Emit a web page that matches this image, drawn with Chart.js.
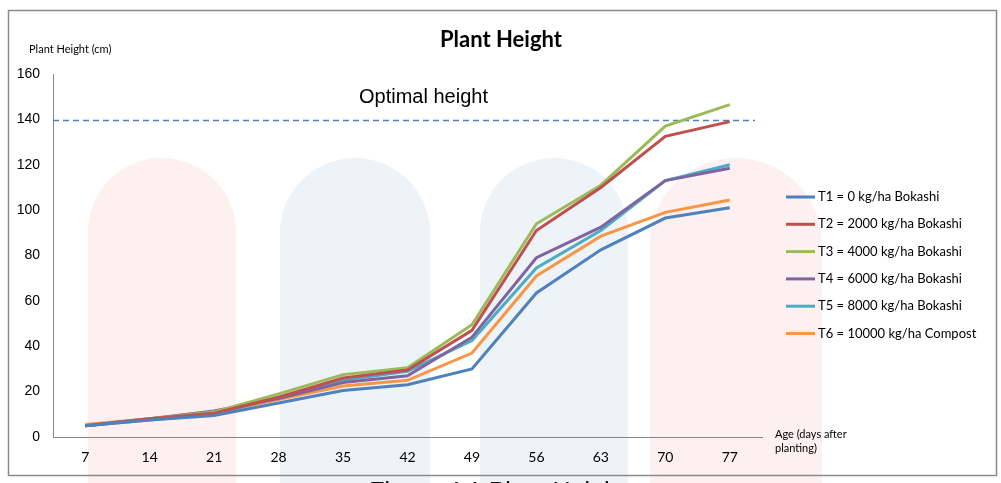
<!DOCTYPE html>
<html>
<head>
<meta charset="utf-8">
<script src="https://cdn.jsdelivr.net/npm/chart.js@4/dist/chart.umd.min.js"></script>
<style>
  html, body { margin: 0; padding: 0; background: #ffffff; }
  #wrap { position: relative; width: 1001px; height: 483px; overflow: hidden; }
  canvas { display: block; }
</style>
</head>
<body>
<div id="wrap"><canvas id="c" width="1001" height="483"></canvas></div>
<script>
// ---- data ----
const days = ['7', '14', '21', '28', '35', '42', '49', '56', '63', '70', '77'];
const seriesNames = [
  'T1 = 0 kg/ha Bokashi',
  'T2 = 2000 kg/ha Bokashi',
  'T3 = 4000 kg/ha Bokashi',
  'T4 = 6000 kg/ha Bokashi',
  'T5 = 8000 kg/ha Bokashi',
  'T6 = 10000 kg/ha Compost'
];
const t1 = [5, 7.5, 9.5, 15, 20.5, 23, 30, 63.5, 82.5, 96.5, 101];
const t2 = [5, 8, 10.5, 17.5, 26, 29.5, 47, 91, 110, 132.5, 139];
const t3 = [5, 8, 11, 19, 27.5, 30.5, 49.5, 94, 111, 137, 146.5];
const t4 = [5, 8, 11.5, 17, 24, 27, 44, 79, 92.5, 113, 118.5];
const t5 = [5, 7.5, 10, 17.5, 25, 29, 42.5, 74.5, 91, 113, 120];
const t6 = [5.5, 8, 10.5, 16.5, 22.5, 25, 37, 71, 88.5, 99, 104.5];
const optimalHeight = 139.5;
const yMin = 0, yMax = 160, yStep = 20;
const colors = ['#4F81BD', '#C0504D', '#9BBB59', '#8064A2', '#4BACC6', '#F79646'];

const seriesValues = [t1, t2, t3, t4, t5, t6];

const CAL = 'Lato, "Open Sans", sans-serif';
const ARI = '"Liberation Sans", Arial, sans-serif';

// background watermark + frame
const backdrop = {
  id: 'backdrop',
  beforeDraw(chart) {
    const ctx = chart.ctx;
    ctx.save();
    ctx.fillStyle = '#ffffff';
    ctx.fillRect(0, 0, chart.width, chart.height);
    function pill(x, y, w, h, col) {
      const r = w / 2;
      ctx.fillStyle = col;
      ctx.beginPath();
      ctx.moveTo(x, y + r);
      ctx.arc(x + r, y + r, r, Math.PI, 0);
      ctx.lineTo(x + w, y + h);
      ctx.lineTo(x, y + h);
      ctx.closePath();
      ctx.fill();
    }
    pill(88, 158, 148, 330, '#fdf0f0');
    pill(280, 158, 150, 330, '#eef3f8');
    pill(480, 158, 148, 330, '#eef3f8');
    pill(650, 158, 172, 330, '#fdf0f0');
    ctx.restore();
  },
  afterDraw(chart) {
    const ctx = chart.ctx;
    ctx.save();
    ctx.strokeStyle = '#8a8a8a';
    ctx.lineWidth = 1.5;
    ctx.strokeRect(8.5, 10.5, 988, 465);
    // cut caption below the frame
    ctx.fillStyle = '#111111';
    ctx.font = '25px ' + ARI;
    ctx.textAlign = 'center';
    ctx.textBaseline = 'alphabetic';
    ctx.fillText('Figure 4.1 Plant Height', 497, 500);
    ctx.restore();
  }
};

// texts, optimal line, legend
const annotations = {
  id: 'annotations',
  beforeDatasetsDraw(chart) {
    const ctx = chart.ctx;
    const y = chart.scales.y.getPixelForValue(optimalHeight);
    ctx.save();
    ctx.strokeStyle = '#4F81BD';
    ctx.lineWidth = 1.5;
    ctx.setLineDash([6, 4]);
    ctx.beginPath();
    ctx.moveTo(chart.chartArea.left, y);
    ctx.lineTo(755, y);
    ctx.stroke();
    ctx.restore();
  },
  afterDatasetsDraw(chart) {
    const ctx = chart.ctx;
    ctx.save();
    ctx.fillStyle = '#000000';
    ctx.textBaseline = 'middle';
    // title
    ctx.font = 'bold 22px ' + CAL;
    ctx.textAlign = 'center';
    ctx.fillText('Plant Height', 501, 40);
    // optimal height label
    ctx.font = '20px ' + ARI;
    ctx.textAlign = 'left';
    ctx.fillText('Optimal height', 359, 97);
    // y-axis title
    ctx.font = '11px ' + CAL;
    ctx.fillText('Plant Height (cm)', 29, 49);
    // x-axis title
    ctx.fillText('Age (days after', 775, 434);
    ctx.fillText('planting)', 775, 448);
    // legend
    ctx.font = '13px ' + CAL;
    chart.data.datasets.forEach((ds, i) => {
      const ly = 197 + i * 27.3;
      ctx.strokeStyle = ds.borderColor;
      ctx.lineWidth = 3;
      ctx.beginPath();
      ctx.moveTo(786, ly);
      ctx.lineTo(815, ly);
      ctx.stroke();
      ctx.fillStyle = '#000000';
      ctx.fillText(ds.label, 818, ly);
    });
    ctx.restore();
  }
};

new Chart(document.getElementById('c'), {
  type: 'line',
  data: {
    labels: days,
    datasets: seriesNames.map((name, i) => ({
      label: name,
      data: seriesValues[i],
      borderColor: colors[i],
      backgroundColor: colors[i],
      borderWidth: 3,
      pointRadius: 0,
      tension: 0,
      fill: false
    }))
  },
  options: {
    responsive: false,
    animation: false,
    devicePixelRatio: 1,
    layout: { padding: { left: 0, right: 239, top: 74, bottom: 0 } },
    plugins: {
      legend: { display: false },
      tooltip: { enabled: false },
      title: { display: false }
    },
    scales: {
      x: {
        offset: true,
        grid: { display: false, drawTicks: false },
        border: { display: true, color: '#868686', width: 1 },
        ticks: { color: '#000000', font: { family: CAL, size: 14 }, padding: 12, maxRotation: 0 },
        afterFit(scale) { scale.height = 46; }
      },
      y: {
        min: yMin, max: yMax,
        grid: { display: false, drawTicks: false },
        border: { display: true, color: '#868686', width: 1 },
        ticks: { stepSize: yStep, color: '#000000', font: { family: ARI, size: 14 }, padding: 13 },
        afterFit(scale) { scale.width = 53; }
      }
    }
  },
  plugins: [backdrop, annotations]
});
</script>
</body>
</html>
